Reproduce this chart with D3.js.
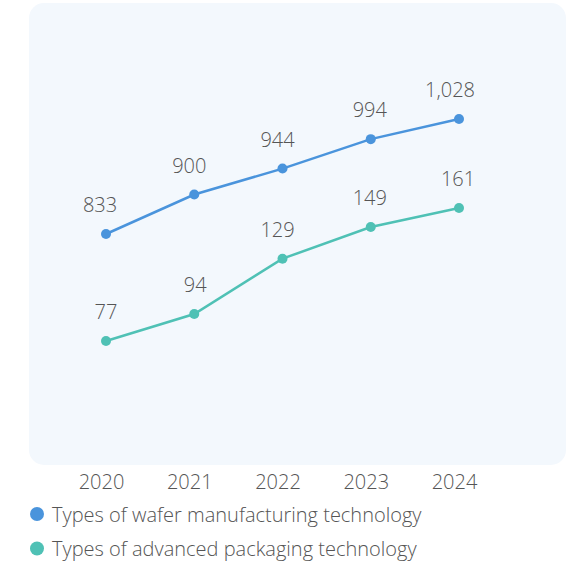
<!DOCTYPE html>
<html>
<head>
<meta charset="utf-8">
<script src="https://cdn.jsdelivr.net/npm/d3@7"></script>
<style>
  html, body { margin: 0; padding: 0; background: #fff; }
  svg { display: block; font-family: "Open Sans", "Noto Sans", sans-serif; font-weight: 300; }
</style>
</head>
<body>
<svg id="chart" width="577" height="563"></svg>
<script>
// Categories and series
const years = ["2020", "2021", "2022", "2023", "2024"];
const waferTypes = [833, 900, 944, 994, 1028];
const packagingTypes = [77, 94, 129, 149, 161];
const seriesNames = ["Types of wafer manufacturing technology", "Types of advanced packaging technology"];
const seriesColors = ["#4a94dc", "#4fc1b5"];

const svg = d3.select("#chart");
const FONT = 20;
const TEXT = "#555";

// Plot panel
const panel = { x: 29, y: 3, w: 537, h: 462 };

svg.append("rect")
  .attr("x", panel.x).attr("y", panel.y)
  .attr("width", panel.w).attr("height", panel.h)
  .attr("rx", 15).attr("ry", 15)
  .attr("fill", "#f3f8fd");

// X: point scale over years
const x = d3.scalePoint().domain(years).range([106, 459]);

// Two independent value axes (hidden)
const yLeft = d3.scaleLinear().domain([441, 1225]).range([panel.y + panel.h, panel.y]);
const yRight = d3.scaleLinear().domain([-1.4, 290.6]).range([panel.y + panel.h, panel.y]);

const fmt = d3.format(",");

// label nudges to keep value labels clear of the line
function drawSeries(values, y, color, nudge) {
  const pts = years.map((yr, i) => ({ yr, v: values[i], i }));
  const line = d3.line().x(d => x(d.yr)).y(d => y(d.v));
  const g = svg.append("g");
  g.append("path")
    .datum(pts)
    .attr("d", line)
    .attr("fill", "none")
    .attr("stroke", color)
    .attr("stroke-width", 2.5);
  g.selectAll("circle").data(pts).join("circle")
    .attr("cx", d => x(d.yr)).attr("cy", d => y(d.v))
    .attr("r", 5).attr("fill", color);
  g.selectAll("text").data(pts).join("text")
    .attr("x", d => x(d.yr) + nudge[d.i]).attr("y", d => y(d.v) - 22)
    .attr("text-anchor", "middle")
    .attr("font-size", FONT)
    .attr("fill", TEXT)
    .text(d => fmt(d.v));
}

drawSeries(waferTypes, yLeft, seriesColors[0], [-6, -5, -5, -1, -9]);
drawSeries(packagingTypes, yRight, seriesColors[1], [0, 1, -5, -1, -1]);

// X axis labels
const xAxis = d3.axisBottom(x).tickSize(0).tickPadding(0);
const ax = svg.append("g").attr("transform", "translate(-5, 489)").call(xAxis);
ax.select(".domain").remove();
ax.selectAll("text")
  .attr("font-size", FONT)
  .attr("fill", TEXT)
  .attr("font-family", "\"Open Sans\", \"Noto Sans\", sans-serif")
  .attr("font-weight", 300)
  .attr("dy", "0");

// Legend
const legend = svg.append("g");
seriesNames.forEach((name, i) => {
  const ly = 514 + i * 34.5;
  legend.append("circle").attr("cx", 37).attr("cy", ly).attr("r", 7).attr("fill", seriesColors[i]);
  legend.append("text")
    .attr("x", 52).attr("y", ly + 7.5)
    .attr("font-size", FONT)
    .attr("fill", TEXT)
    .text(name);
});
</script>
</body>
</html>
